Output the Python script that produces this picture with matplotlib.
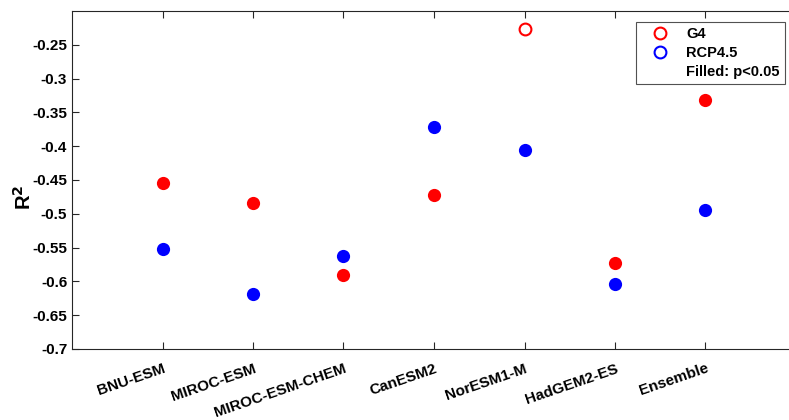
import matplotlib.pyplot as plt
from matplotlib.lines import Line2D
from matplotlib.transforms import ScaledTranslation
import numpy as np

plt.rcParams['font.family'] = ['Liberation Sans', 'DejaVu Sans']
plt.rcParams['font.weight'] = 'bold'

models = ['BNU-ESM', 'MIROC-ESM', 'MIROC-ESM-CHEM', 'CanESM2',
          'NorESM1-M', 'HadGEM2-ES', 'Ensemble']
g4 = [-0.455, -0.484, -0.591, -0.472, -0.227, -0.573, -0.332]
rcp45 = [-0.552, -0.618, -0.562, -0.371, -0.406, -0.604, -0.495]
g4_sig = [True, True, True, True, False, True, True]
rcp45_sig = [True, True, True, True, True, True, True]

fig = plt.figure(figsize=(7.89, 4.2), dpi=100)
ax = fig.add_axes([72/789, 1 - 349/420, (796 - 72)/789, (349 - 11)/420])

x = np.arange(1, len(models) + 1)
for xi, v, s in zip(x, g4, g4_sig):
    if s:
        ax.plot(xi, v, 'o', color='red', ms=9.5, mec='none')
    else:
        ax.plot(xi, v, 'o', mfc='white', mec='red', ms=8.5, mew=1.5)
for xi, v, s in zip(x, rcp45, rcp45_sig):
    if s:
        ax.plot(xi, v, 'o', color='blue', ms=9.5, mec='none')
    else:
        ax.plot(xi, v, 'o', mfc='white', mec='blue', ms=8.5, mew=1.5)

ax.set_xlim(0, 8)
ax.set_ylim(-0.7, -0.2)
ax.set_xticks(x)
ax.set_xticklabels(models, rotation=19, ha='right', va='top', rotation_mode='anchor')
shift = ScaledTranslation(4/100, 0, fig.dpi_scale_trans)
for lab in ax.get_xticklabels():
    lab.set_transform(lab.get_transform() + shift)
yt = np.arange(-0.7, -0.249, 0.05)
ax.set_yticks(yt)
ax.set_yticklabels(['%g' % round(v, 2) for v in yt])
ax.tick_params(direction='in', top=True, right=False, labelsize=11,
               color='#262626', length=5, width=0.8)
ax.tick_params(axis='x', pad=9)
for sp in ax.spines.values():
    sp.set_color('#262626')
    sp.set_linewidth(0.8)
ax.spines['right'].set_visible(False)
ax.set_ylabel('R$^\\mathbf{2}$', fontsize=14.5, fontweight='bold')
ax.yaxis.set_label_coords(-0.052, 0.45)

handles = [
    Line2D([], [], ls='none', marker='o', mfc='white', mec='red', ms=8.5, mew=1.5),
    Line2D([], [], ls='none', marker='o', mfc='white', mec='blue', ms=8.5, mew=1.5),
    Line2D([], [], ls='none', marker='none'),
]
leg = ax.legend(handles, ['G4', 'RCP4.5', 'Filled: p<0.05'],
                loc='upper right', bbox_to_anchor=(785/789, 1 - 22/420),
                bbox_transform=fig.transFigure, borderaxespad=0,
                fontsize=10.5, frameon=True,
                fancybox=False, edgecolor='#262626', handletextpad=0.5,
                borderpad=0.35, labelspacing=0.35, handlelength=2.6)
leg.get_frame().set_linewidth(0.8)

fig.savefig('out.png', dpi=100)
